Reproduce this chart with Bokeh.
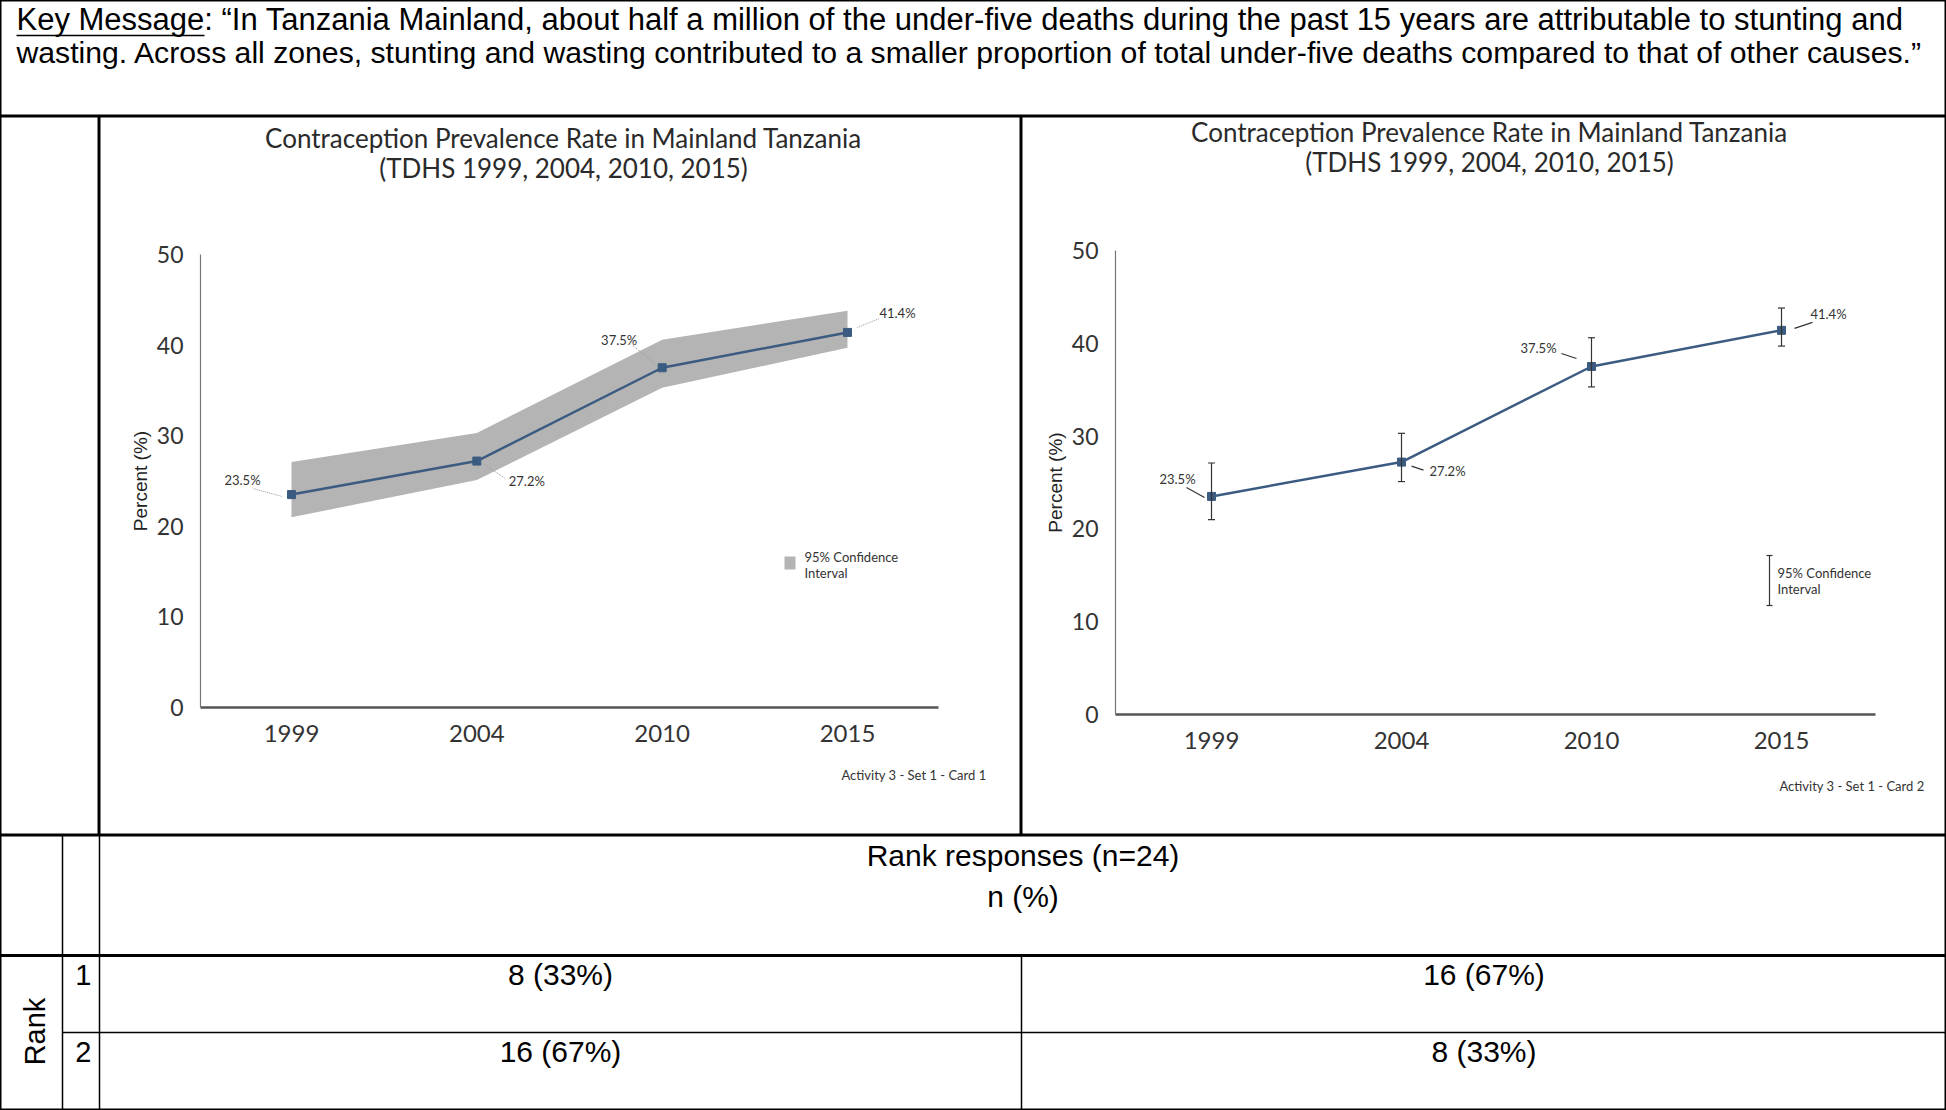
import math
from bokeh.plotting import figure
from bokeh.models import (Range1d, LinearAxis, FixedTicker, ColumnDataSource, Label,
                          Whisker, TeeHead)
from bokeh.layouts import column, row
from bokeh.embed import file_html
from bokeh.resources import INLINE
from bokeh.core.properties import value

# ---------------- data ----------------
years = ["1999", "2004", "2010", "2015"]
cpr = [23.5, 27.2, 37.5, 41.4]
ci_lower = [21.0, 25.1, 35.3, 39.7]
ci_upper = [27.1, 30.3, 40.6, 43.8]
y_ticks = [0, 10, 20, 30, 40, 50]
title_lines = ["Contraception Prevalence Rate in Mainland Tanzania",
               "(TDHS 1999, 2004, 2010, 2015)"]
y_axis_label = "Percent (%)"
legend_lines = ["95% Confidence", "Interval"]
card_notes = ["Activity 3 - Set 1 - Card 1", "Activity 3 - Set 1 - Card 2"]
key_message = [
    "Key Message: \u201cIn Tanzania Mainland, about half a million of the under-five deaths during the past 15 years are attributable to stunting and",
    "wasting. Across all zones, stunting and wasting contributed to a smaller proportion of total under-five deaths compared to that of other causes.\u201d",
]
rank_header = ["Rank responses (n=24)", "n (%)"]
rank_side = "Rank"
ranks = ["1", "2"]
responses_total = 24
card1_counts = [8, 16]
card2_counts = [16, 8]

# ---------------- layout ----------------
SX = 1.0
SY = 1.0
W = 1946
HA, HB, HC = 116, 719, 275
C0, C1 = 99, 922
C2 = W - C0 - C1


def fx(rx):
    return rx * SX


def fy(ry):
    return ry * SY


LINE_COL = "#3b5b80"
BAND_COL = "#b4b4b4"
TXT = "#2a2a2a"
CHART_FONT = "Lato"
SANS = "Liberation Sans"


def make_chart(width, left, a, variant):
    top = HA
    px0 = fx(a["i0"]) - left
    ux = (fx(a["i3"]) - fx(a["i0"])) / 3.0
    py0 = fy(a["y0"]) - top
    uy = (fy(a["y0"]) - fy(a["y50"])) / 50.0

    def X(rx):
        return (fx(rx) - left - px0) / ux

    def Y(ry):
        return (py0 - (fy(ry) - top)) / uy

    p = figure(width=width, height=HB,
               x_range=Range1d(-px0 / ux, (width - px0) / ux),
               y_range=Range1d(-(HB - py0) / uy, py0 / uy),
               x_axis_location=None, y_axis_location=None,
               toolbar_location=None, output_backend="svg", min_border=0,
               outline_line_color="black", outline_line_width=2)
    p.xgrid.visible = False
    p.ygrid.visible = False

    ya = LinearAxis(fixed_location=X(a["yx"]), bounds=(y_ticks[0], y_ticks[-1]),
                    ticker=FixedTicker(ticks=y_ticks),
                    axis_label=y_axis_label, axis_label_text_font=SANS,
                    axis_label_text_font_size="19px", axis_label_text_font_style="normal",
                    axis_label_text_color="#222", axis_label_standoff=3,
                    major_label_text_font=CHART_FONT, major_label_text_font_size="23px",
                    major_label_text_color="#333", major_label_standoff=11,
                    major_tick_line_color=None, minor_tick_line_color=None,
                    axis_line_color="#777", axis_line_width=1.2)
    p.add_layout(ya, "left")

    xs = list(range(len(years)))
    xa = LinearAxis(fixed_location=0, bounds=(X(a["yx"]), X(a["xend"])),
                    ticker=FixedTicker(ticks=xs),
                    major_label_overrides={i: y for i, y in zip(xs, years)},
                    major_label_text_font=CHART_FONT, major_label_text_font_size="24px",
                    major_label_text_color="#333", major_label_standoff=11,
                    major_tick_line_color=None, minor_tick_line_color=None,
                    axis_line_color="#555", axis_line_width=2.5)
    p.add_layout(xa, "below")

    if variant == "band":
        p.varea(x=xs, y1=ci_lower, y2=ci_upper, fill_color=BAND_COL)
    else:
        src = ColumnDataSource(dict(x=xs, lo=ci_lower, hi=ci_upper))
        p.add_layout(Whisker(source=src, base="x", lower="lo", upper="hi",
                             line_color="#333", line_width=1.2, level="glyph",
                             lower_head=TeeHead(size=7, line_color="#333", line_width=1.2),
                             upper_head=TeeHead(size=7, line_color="#333", line_width=1.2)))

    p.line(xs, cpr, line_color=LINE_COL, line_width=2.5)
    p.scatter(xs, cpr, marker="square", size=8, fill_color=LINE_COL, line_color=LINE_COL)

    # value labels with leader lines
    lab = dict(x=xs, y=cpr, t=[f"{v}%" for v in cpr],
               dx=[o[0] * SX for o in a["lab"]], dy=[o[1] * SY for o in a["lab"]])
    p.text(x="x", y="y", text="t", x_offset="dx", y_offset="dy",
           source=ColumnDataSource(lab), text_align="center", text_baseline="middle",
           text_font=value(CHART_FONT), text_font_size="13px", text_color="#333")
    x0 = [xi + s[0] * SX / ux for xi, s in zip(xs, a["ls"])]
    y0 = [yi - s[1] * SY / uy for yi, s in zip(cpr, a["ls"])]
    x1 = [xi + e[0] * SX / ux for xi, e in zip(xs, a["le"])]
    y1 = [yi - e[1] * SY / uy for yi, e in zip(cpr, a["le"])]
    if variant == "band":
        p.segment(x0, y0, x1, y1, line_color="#999999", line_width=1, line_dash="1 1")
    else:
        p.segment(x0, y0, x1, y1, line_color="#333333", line_width=1.2)

    # title
    for ln, ty in zip(title_lines, a["ty"]):
        p.add_layout(Label(x=X(a["tx"]), y=Y(ty), text=ln, text_align="center",
                           text_baseline="middle", text_font=CHART_FONT,
                           text_font_size="26px", text_color=TXT))

    # legend
    lg = a["lg"]
    if variant == "band":
        p.quad(left=[X(lg[0])], right=[X(lg[0] + 11)], top=[Y(lg[1] - 7)],
               bottom=[Y(lg[1] + 6)], fill_color=BAND_COL, line_color=None)
    else:
        p.segment([X(lg[0])], [Y(lg[1] - 17)], [X(lg[0])], [Y(lg[1] + 33)],
                  line_color="#333", line_width=1.2)
        p.segment([X(lg[0] - 3), X(lg[0] - 3)], [Y(lg[1] - 17), Y(lg[1] + 33)],
                  [X(lg[0] + 3), X(lg[0] + 3)], [Y(lg[1] - 17), Y(lg[1] + 33)],
                  line_color="#333", line_width=1.2)
    for i, t in enumerate(legend_lines):
        p.add_layout(Label(x=X(a["lt"][0]), y=Y(a["lt"][1] + 16 * i), text=t,
                           text_align="left", text_baseline="middle",
                           text_font=CHART_FONT, text_font_size="13px", text_color="#333"))

    p.add_layout(Label(x=X(a["cn"][0]), y=Y(a["cn"][1]), text=a["note"],
                       text_align="right", text_baseline="middle",
                       text_font=CHART_FONT, text_font_size="13px", text_color="#333"))
    return p


left_spec = dict(i0=291, i3=847, y0=707, y50=254, yx=200, xend=938,
                 lab=[(-49, -15), (50, 20), (-43, -28), (50, -19)],
                 ls=[(-38, -6), (7, 3), (-29, -22), (10, -5)],
                 le=[(-9, 2), (28, 17), (-7, -4), (32, -14)],
                 tx=563, ty=[137, 167], lg=(784, 563), lt=(804, 556),
                 cn=(986, 774), note=card_notes[0])
right_spec = dict(i0=1211, i3=1781, y0=714, y50=250, yx=1115, xend=1875,
                  lab=[(-34, -17), (46, 9), (-53, -19), (47, -16)],
                  ls=[(-25, -9), (10, 4), (-30, -13), (13, -2)],
                  le=[(-7, 1), (22, 8), (-15, -8), (31, -8)],
                  tx=1489, ty=[131, 161], lg=(1769, 572), lt=(1777, 572),
                  cn=(1924, 785), note=card_notes[1])

p_left = make_chart(C1, C0, left_spec, "band")
p_right = make_chart(C2, C0 + C1, right_spec, "bars")


def blank(width, height):
    f = figure(width=width, height=height, x_range=Range1d(0, width),
               y_range=Range1d(height, 0), x_axis_location=None, y_axis_location=None,
               toolbar_location=None, output_backend="svg", min_border=0,
               outline_line_color="black", outline_line_width=2)
    f.xgrid.visible = False
    f.ygrid.visible = False
    return f


# key message row
pa = blank(W, HA)
for i, (ln, fs) in enumerate(zip(key_message, ["31px", "30.2px"])):
    pa.add_layout(Label(x=fx(16), y=fy(19 + 33 * i), text=ln, text_align="left",
                        text_baseline="middle", text_font=SANS, text_font_size=fs,
                        text_color="black"))
pa.segment([fx(16)], [fy(35)], [fx(204)], [fy(35)], line_color="black", line_width=1.5)

# left empty cell of chart row
p0 = blank(C0, HB)

# bottom table
pc = blank(W, HC)
top = 835
xa_, xb_, xc_ = fx(62), fx(99), fx(1021)
yh = fy(955 - top)
yr = fy(1032 - top)
pc.segment([xa_, xb_, xc_, 0, xa_], [0, 0, yh, yh, yr],
           [xa_, xb_, xc_, W, W], [HC, HC, HC, yh, yr],
           line_color="black", line_width=[1.5, 1.5, 1.5, 3, 1.5])
for i, t in enumerate(rank_header):
    pc.add_layout(Label(x=(xb_ + W) / 2, y=fy(855 - top + 41 * i), text=t,
                        text_align="center", text_baseline="middle", text_font=SANS,
                        text_font_size="30px", text_color="black"))
pc.add_layout(Label(x=fx(34), y=fy(1031 - top), text=rank_side, angle=math.pi / 2,
                    text_align="center", text_baseline="middle", text_font=SANS,
                    text_font_size="29px", text_color="black"))
for i, rk in enumerate(ranks):
    ry = fy(974 - top + 77 * i)
    pc.add_layout(Label(x=fx(91), y=ry, text=rk, text_align="right", text_baseline="middle",
                        text_font=SANS, text_font_size="29px", text_color="black"))
    for cx, counts in (((xb_ + xc_) / 2, card1_counts), ((xc_ + W) / 2, card2_counts)):
        n = counts[i]
        pc.add_layout(Label(x=cx, y=ry, text=f"{n} ({round(100 * n / responses_total)}%)",
                            text_align="center", text_baseline="middle", text_font=SANS,
                            text_font_size="30px", text_color="black"))

layout = column(pa, row(p0, p_left, p_right), pc)
open("out.html", "w").write(file_html(layout, INLINE))
